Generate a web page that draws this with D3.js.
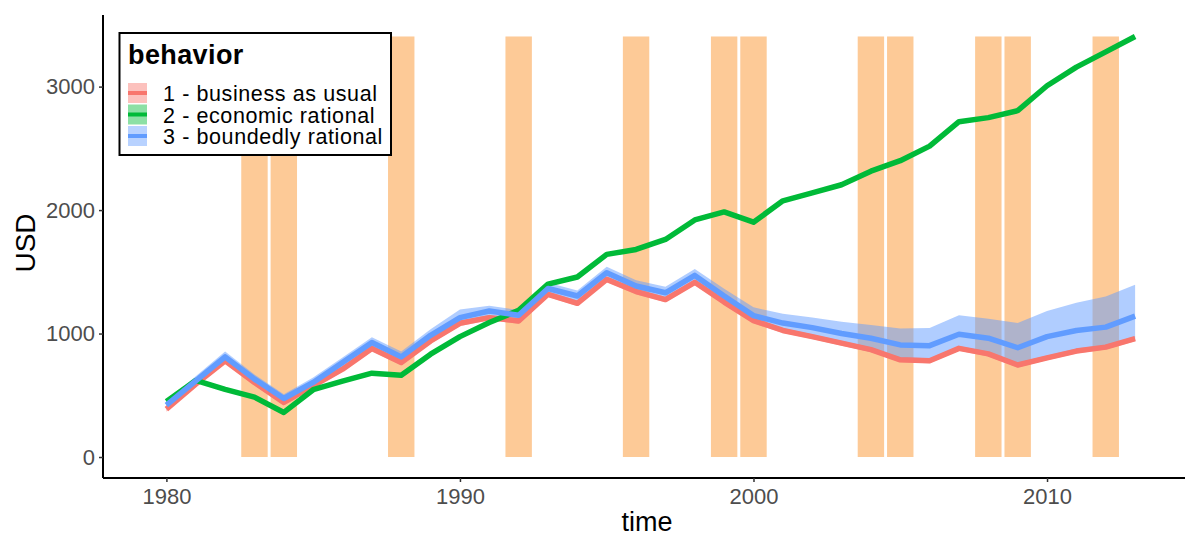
<!DOCTYPE html>
<html>
<head>
<meta charset="utf-8">
<script src="https://cdn.jsdelivr.net/npm/d3@7"></script>
<style>
  html, body { margin: 0; padding: 0; background: #fff; }
  svg { display: block; font-family: "Liberation Sans", Arial, Helvetica, sans-serif; }
</style>
</head>
<body>
<svg id="chart" width="1185" height="533"></svg>
<script>
// ---------------- data ----------------
const years = d3.range(1980, 2014);
const green = [450, 620, 548, 485, 361, 545, 615, 679, 663, 833, 975, 1089, 1188, 1400, 1458, 1641, 1681, 1762, 1920, 1985, 1902, 2075, 2140, 2205, 2315, 2400, 2518, 2716, 2749, 2805, 3007, 3158, 3281, 3406];
const red = [388, 590, 779, 604, 442, 577, 711, 879, 765, 940, 1083, 1129, 1102, 1318, 1245, 1439, 1340, 1275, 1415, 1255, 1105, 1025, 975, 922, 870, 787, 779, 880, 835, 745, 803, 858, 890, 958];
const blue = [420, 617, 811, 631, 474, 604, 765, 927, 811, 986, 1129, 1183, 1148, 1365, 1304, 1493, 1385, 1330, 1471, 1304, 1145, 1085, 1048, 1000, 962, 908, 902, 994, 962, 885, 975, 1025, 1052, 1141];
const blueUpper = [458, 655, 855, 668, 508, 645, 805, 970, 855, 1035, 1195, 1225, 1190, 1412, 1348, 1542, 1432, 1378, 1522, 1362, 1212, 1160, 1130, 1095, 1070, 1040, 1045, 1148, 1120, 1085, 1183, 1250, 1300, 1396];
const blueLower = [382, 582, 772, 597, 437, 567, 718, 878, 768, 942, 1072, 1117, 1092, 1308, 1247, 1437, 1327, 1267, 1407, 1247, 1088, 1010, 960, 905, 850, 790, 780, 880, 835, 745, 800, 855, 885, 950];
const redUpper = [410, 612, 802, 626, 464, 599, 733, 901, 787, 962, 1105, 1151, 1124, 1340, 1267, 1461, 1362, 1297, 1437, 1277, 1127, 1045, 995, 942, 890, 807, 799, 900, 855, 765, 823, 878, 910, 978];
const redLower = [366, 568, 757, 582, 420, 555, 689, 857, 743, 918, 1061, 1107, 1080, 1296, 1223, 1417, 1318, 1253, 1393, 1233, 1083, 1005, 955, 902, 850, 767, 759, 860, 815, 725, 783, 838, 870, 938];
const shockYears = [1983, 1984, 1988, 1992, 1996, 1999, 2000, 2004, 2005, 2008, 2009, 2012];
const yTicks = [0, 1000, 2000, 3000];
const xTicks = [1980, 1990, 2000, 2010];
const seriesNames = ["1 - business as usual", "2 - economic rational", "3 - boundedly rational"];
const seriesColors = ["#F8766D", "#00BA38", "#619CFF"];

// ---------------- layout ----------------
const svg = d3.select("#chart");
const panel = { left: 103, right: 1185, top: 15, bottom: 478 };

const x = d3.scaleLinear().domain([1977.84, 2014.7]).range([panel.left, panel.right]);
const y = d3.scaleLinear().domain([-170, 3580]).range([panel.bottom, panel.top]);

// shock bars
const barTop = d3.max(green);
const barW = 0.9;
svg.append("g").selectAll("rect").data(shockYears).join("rect")
  .attr("x", d => x(d - barW / 2))
  .attr("width", d => x(d + barW / 2) - x(d - barW / 2))
  .attr("y", y(barTop))
  .attr("height", y(0) - y(barTop))
  .attr("fill", "#FDCA97");

// ribbons
const area = (lo, hi) => d3.area()
  .x((d, i) => x(years[i]))
  .y0((d, i) => y(lo[i]))
  .y1((d, i) => y(hi[i]));

svg.append("path").datum(years).attr("d", area(redLower, redUpper))
  .attr("fill", seriesColors[0]).attr("fill-opacity", 0.45);
svg.append("path").datum(years).attr("d", area(blueLower, blueUpper))
  .attr("fill", seriesColors[2]).attr("fill-opacity", 0.5);

// lines
const line = d3.line().x((d, i) => x(years[i])).y(d => y(d));
[red, green, blue].forEach((s, k) => {
  svg.append("path").datum(s).attr("d", line)
    .attr("fill", "none")
    .attr("stroke", seriesColors[k])
    .attr("stroke-width", 5.5)
    .attr("stroke-linejoin", "round");
});

// axes
const xAxis = svg.append("g").attr("transform", `translate(0,${panel.bottom})`)
  .call(d3.axisBottom(x).tickValues(xTicks).tickFormat(d3.format("d")).tickSize(4).tickPadding(6));
const yAxis = svg.append("g").attr("transform", `translate(${panel.left},0)`)
  .call(d3.axisLeft(y).tickValues(yTicks).tickFormat(d3.format("d")).tickSize(4).tickPadding(4));

[xAxis, yAxis].forEach(a => {
  a.select(".domain").attr("stroke", "#000").attr("stroke-width", 2);
  a.selectAll(".tick line").attr("stroke", "#333").attr("stroke-width", 1.5);
  a.selectAll(".tick text").attr("fill", "#4D4D4D").style("font-size", "22px")
    .style("font-family", "'Liberation Sans', Arial, sans-serif");
});
xAxis.select(".domain").attr("d", `M${panel.left},0H${panel.right}`);
yAxis.select(".domain").attr("d", `M0,${panel.top}V${panel.bottom}`);

// axis titles
svg.append("text").attr("x", (panel.left + panel.right) / 2 + 3).attr("y", 531)
  .attr("text-anchor", "middle").style("font-size", "27px").attr("fill", "#000").text("time");
svg.append("text").attr("transform", `translate(35,243) rotate(-90)`)
  .attr("text-anchor", "middle").style("font-size", "28px").attr("fill", "#000").text("USD");

// legend
const lg = svg.append("g");
lg.append("rect").attr("x", 119.5).attr("y", 33).attr("width", 271.5).attr("height", 122)
  .attr("fill", "#fff").attr("stroke", "#000").attr("stroke-width", 2);
lg.append("text").attr("x", 128).attr("y", 64).style("font-size", "27px").style("font-weight", "bold")
  .style("letter-spacing", "0.4px").attr("fill", "#000").text("behavior");
const rowY = [83, 104.5, 126];
seriesNames.forEach((name, k) => {
  const g = lg.append("g");
  g.append("rect").attr("x", 128).attr("y", rowY[k]).attr("width", 19).attr("height", 20)
    .attr("fill", seriesColors[k]).attr("fill-opacity", 0.45);
  g.append("line").attr("x1", 128).attr("x2", 147).attr("y1", rowY[k] + 10).attr("y2", rowY[k] + 10)
    .attr("stroke", seriesColors[k]).attr("stroke-width", 4);
  g.append("text").attr("x", 163).attr("y", rowY[k] + 18).style("font-size", "21.5px")
    .style("letter-spacing", "0.6px").attr("fill", "#000").text(name);
});
</script>
</body>
</html>
